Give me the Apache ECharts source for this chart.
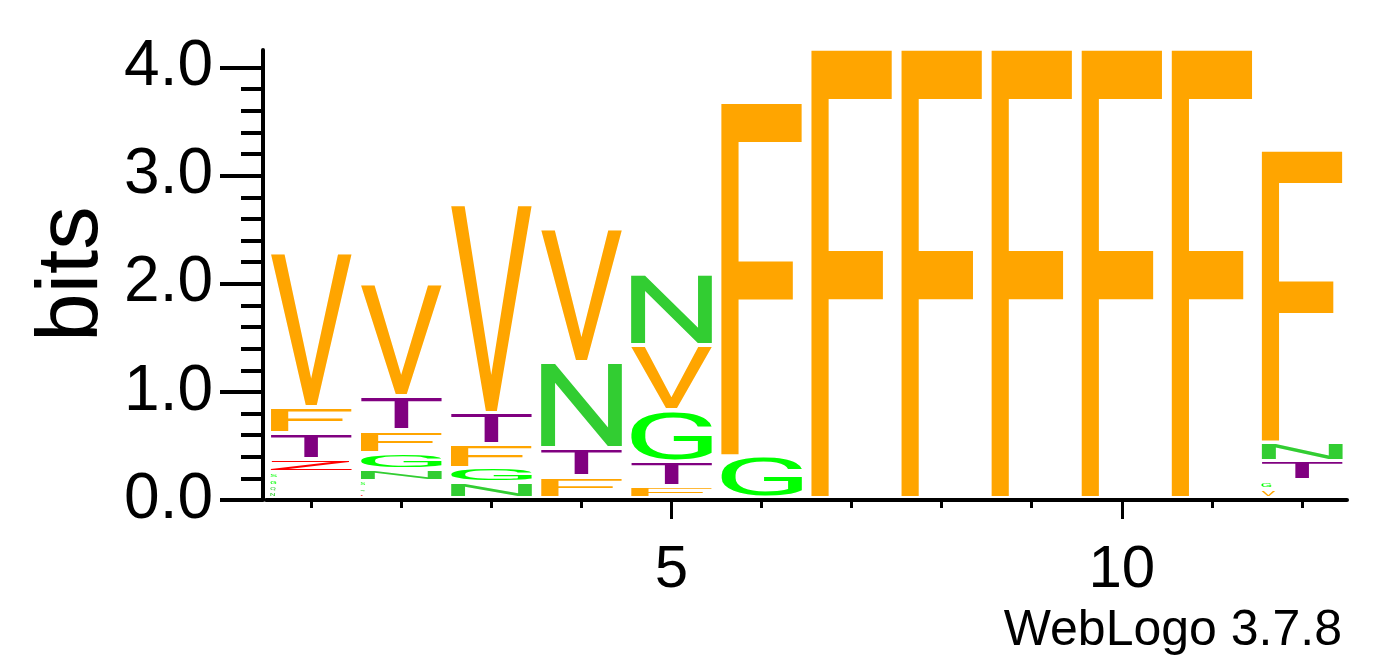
<!DOCTYPE html>
<html>
<head>
<meta charset="utf-8">
<script src="https://cdn.jsdelivr.net/npm/echarts@6/dist/echarts.min.js"></script>
<style>
html,body{margin:0;padding:0;background:#ffffff;}
#chart{width:1392px;height:667px;}
</style>
</head>
<body>
<div id="chart"></div>
<script>
// ---------------- data ----------------
const positions = [1, 2, 3, 4, 5, 6, 7, 8, 9, 10, 11, 12];

// each stack: [letter, bits] from bottom to top
const stack1  = [['N', 0.055], ['Q', 0.06], ['G', 0.06], ['S', 0.065], ['Z', 0.12], ['T', 0.24], ['F', 0.24], ['V', 1.443]];
const stack2  = [['Z', 0.045], ['Q', 0.055], ['S', 0.057], ['N', 0.106], ['G', 0.154], ['F', 0.213], ['T', 0.318], ['V', 1.04]];
const stack3  = [['N', 0.143], ['G', 0.139], ['F', 0.217], ['T', 0.288], ['V', 1.941]];
const stack4  = [['F', 0.199], ['T', 0.259], ['N', 0.796], ['V', 1.244]];
const stack5  = [['F', 0.110], ['T', 0.227], ['G', 0.481], ['V', 0.597], ['N', 0.659]];
const stack6  = [['G', 0.386], ['F', 3.296]];
const stack7  = [['F', 4.18]];
const stack8  = [['F', 4.18]];
const stack9  = [['F', 4.18]];
const stack10 = [['F', 4.18]];
const stack11 = [['F', 4.18]];
const stack12 = [['V', 0.086], ['G', 0.077], ['T', 0.180], ['N', 0.171], ['F', 2.723]];

const yMajorTicks = [0, 1, 2, 3, 4];
const yMinorTicks = [0.2, 0.4, 0.6, 0.8, 1.2, 1.4, 1.6, 1.8, 2.2, 2.4, 2.6, 2.8, 3.2, 3.4, 3.6, 3.8];
const xMajorTicks = [5, 10];
const xMinorTicks = [1, 2, 3, 4, 6, 7, 8, 9, 11, 12];
const yAxisName = 'bits';
const creditText = 'WebLogo 3.7.8';

// ---------------- styles ----------------
const letterColors = {
  F: '#FFA500', V: '#FFA500', T: '#800080', N: '#32CD32', Q: '#32CD32',
  G: '#00FF00', S: '#00FF00', Z: '#FF0000'
};
const TEXT_FONT = 'Liberation Sans';
const GLYPH_FONT = 'Roboto';
const GLYPH_SIZE = 200;

// glyph ink metrics (textAlign left, textBaseline middle, as zrender draws)
const letters = Object.keys(letterColors);
const metrics = {};
(function () {
  const ctx = document.createElement('canvas').getContext('2d');
  ctx.font = 'normal normal ' + GLYPH_SIZE + 'px ' + GLYPH_FONT;
  ctx.textAlign = 'left';
  ctx.textBaseline = 'middle';
  letters.forEach(function (ch) {
    const m = ctx.measureText(ch);
    metrics[ch] = {
      L: m.actualBoundingBoxLeft, R: m.actualBoundingBoxRight,
      A: m.actualBoundingBoxAscent, D: m.actualBoundingBoxDescent
    };
  });
})();

// build series data from stacks
const stacks = [stack1, stack2, stack3, stack4, stack5, stack6, stack7, stack8, stack9, stack10, stack11, stack12];
const logoData = [];
stacks.forEach(function (stack, i) {
  let base = 0;
  stack.forEach(function (item) {
    logoData.push([positions[i], base, base + item[1], letters.indexOf(item[0])]);
    base += item[1];
  });
});

const chart = echarts.init(document.getElementById('chart'), null, { renderer: 'canvas' });

const axisColor = '#000000';
const option = {
  animation: false,
  backgroundColor: '#ffffff',
  grid: { left: 266, right: 45, top: 50, bottom: 167, containLabel: false, outerBoundsMode: 'none' },
  xAxis: [
    {
      type: 'value', min: 0.5, max: 12.5, position: 'bottom',
      axisLine: { show: true, onZero: false, lineStyle: { color: axisColor, width: 4 } },
      axisTick: { show: true, length: 19, customValues: xMajorTicks, lineStyle: { color: axisColor, width: 3 } },
      axisLabel: { show: true, customValues: xMajorTicks, margin: 40, fontSize: 60, fontFamily: TEXT_FONT, color: '#000' },
      splitLine: { show: false }
    },
    {
      type: 'value', min: 0.5, max: 12.5, position: 'bottom',
      axisLine: { show: false, onZero: false },
      axisTick: { show: true, length: 8, customValues: xMinorTicks, lineStyle: { color: axisColor, width: 3 } },
      axisLabel: { show: false },
      splitLine: { show: false }
    }
  ],
  yAxis: [
    {
      type: 'value', min: 0, max: 4.163, position: 'left', offset: 3,
      axisLine: { show: true, onZero: false, lineStyle: { color: axisColor, width: 4 } },
      axisTick: { show: true, length: 43, customValues: yMajorTicks, lineStyle: { color: axisColor, width: 4 } },
      axisLabel: {
        show: true, customValues: yMajorTicks, margin: 50, fontSize: 64, fontFamily: TEXT_FONT, color: '#000',
        formatter: function (v) { return Number(v).toFixed(1); }
      },
      splitLine: { show: false }
    },
    {
      type: 'value', min: 0, max: 4.163, position: 'left', offset: 3,
      axisLine: { show: false, onZero: false },
      axisTick: { show: true, length: 22, customValues: yMinorTicks, lineStyle: { color: axisColor, width: 4 } },
      axisLabel: { show: false },
      splitLine: { show: false }
    }
  ],
  graphic: [
    {
      type: 'text', x: 73, y: 274, rotation: Math.PI / 2,
      style: { text: yAxisName, fontSize: 87, fontFamily: TEXT_FONT, fill: '#000', align: 'center', verticalAlign: 'middle' }
    },
    {
      type: 'text', x: 1342, y: 631,
      style: { text: creditText, fontSize: 50, fontFamily: TEXT_FONT, fill: '#000', align: 'right', verticalAlign: 'middle' }
    }
  ],
  series: [
    {
      type: 'custom',
      xAxisIndex: 0, yAxisIndex: 0,
      clip: false,
      encode: { x: 0, y: [1, 2] },
      data: logoData,
      renderItem: function (params, api) {
        const pos = api.value(0), lo = api.value(1), hi = api.value(2);
        const ch = letters[api.value(3)];
        const p0 = api.coord([pos - 0.5, lo]);
        const p1 = api.coord([pos + 0.5, hi]);
        const slotW = p1[0] - p0[0];
        const X0 = p0[0] + slotW * 0.05;
        let X1 = p1[0] - slotW * 0.05;
        const Y0 = p1[1];            // glyph top
        const Y1 = p0[1] - 4;        // glyph bottom
        const gh = Y1 - Y0;
        if (gh < 0.6) return null;
        const m = metrics[ch];
        // very small glyphs are not stretched across the column
        if (gh < 6) {
          X1 = Math.min(X1, X0 + gh * 3 * (m.L + m.R) / (m.A + m.D));
        }
        const sx = (X1 - X0) / (m.L + m.R);
        const sy = gh / (m.A + m.D);
        return {
          type: 'text',
          x: X0 + sx * m.L,
          y: Y0 + sy * m.A,
          scaleX: sx, scaleY: sy,
          style: {
            text: ch, x: 0, y: 0,
            fontSize: GLYPH_SIZE, fontFamily: GLYPH_FONT, fontWeight: 'normal', fontStyle: 'normal',
            fill: letterColors[ch], align: 'left', verticalAlign: 'middle'
          }
        };
      }
    }
  ]
};
chart.setOption(option);
</script>
</body>
</html>
